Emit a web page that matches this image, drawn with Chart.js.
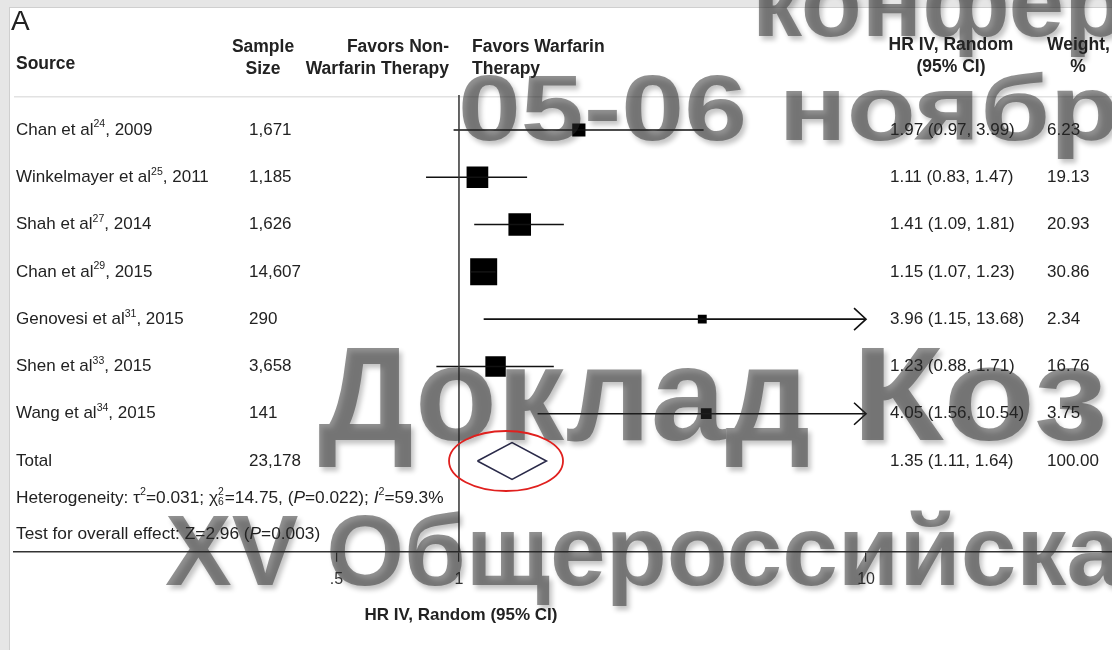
<!DOCTYPE html>
<html>
<head>
<meta charset="utf-8">
<script src="https://cdn.jsdelivr.net/npm/chart.js@4.4.0/dist/chart.umd.min.js"></script>
<style>
  html, body { margin: 0; padding: 0; background: #fff; }
  #wrap { width: 1112px; height: 650px; position: relative; overflow: hidden; }
</style>
</head>
<body>
<div id="wrap"><canvas id="forest" width="1112" height="650"></canvas></div>
<script>
// study data
const studies = ['Chan et al', 'Winkelmayer et al', 'Shah et al', 'Chan et al', 'Genovesi et al', 'Shen et al', 'Wang et al'];
const refs = ['24', '25', '27', '29', '31', '33', '34'];
const years = ['2009', '2011', '2014', '2015', '2015', '2015', '2015'];
const sampleSizes = ['1,671', '1,185', '1,626', '14,607', '290', '3,658', '141'];
const hr = [1.97, 1.11, 1.41, 1.15, 3.96, 1.23, 4.05];
const lower = [0.97, 0.83, 1.09, 1.07, 1.15, 0.88, 1.56];
const upper = [3.99, 1.47, 1.81, 1.23, 13.68, 1.71, 10.54];
const weights = ['6.23', '19.13', '20.93', '30.86', '2.34', '16.76', '3.75'];

const totalN = '23,178';
const totalHr = 1.35;
const totalLower = 1.11;
const totalUpper = 1.64;
const totalWeight = '100.00';

const xTicks = [0.5, 1, 10];

const FONT = '"Liberation Sans", Arial, sans-serif';
const AXIS_MAX = 10;          // CIs past this end in an arrow
const ROW_TOTAL = studies.length;
const Y_MIN = -0.74, Y_MAX = 8.92;
const X_MIN = 0.0807, X_MAX = 40.2;

function fmtCI(v, lo, hi) {
  return v.toFixed(2) + ' (' + lo.toFixed(2) + ', ' + hi.toFixed(2) + ')';
}

// text with superscripts / subscripts / italics
function drawRich(ctx, parts, x, y, size) {
  parts.forEach(p => {
    if (typeof p === 'string') p = { t: p };
    if (p.sup !== undefined && p.sub !== undefined) {
      ctx.font = (size * 0.6) + 'px ' + FONT;
      ctx.fillText(p.sup, x, y - size * 0.32);
      ctx.fillText(p.sub, x, y + size * 0.25);
      x += Math.max(ctx.measureText(p.sup).width, ctx.measureText(p.sub).width) + 1;
      return;
    }
    let f = size, dy = 0;
    if (p.sup !== undefined) { f = size * 0.62; dy = -size * 0.32; p.t = p.sup; }
    ctx.font = (p.it ? 'italic ' : '') + f + 'px ' + FONT;
    ctx.fillText(p.t, x, y + dy);
    x += ctx.measureText(p.t).width;
  });
  return x;
}

const framePlugin = {
  id: 'frame',
  beforeDraw(chart) {
    const ctx = chart.ctx;
    ctx.save();
    ctx.fillStyle = '#fff';
    ctx.fillRect(0, 0, chart.width, chart.height);
    ctx.fillStyle = '#e6e6e6';
    ctx.fillRect(0, 0, chart.width, 7);
    ctx.fillRect(0, 0, 9, chart.height);
    ctx.fillStyle = '#cfcfcf';
    ctx.fillRect(9, 7, chart.width, 1);
    ctx.fillRect(9, 7, 1, chart.height);
    // faint header rule
    ctx.fillStyle = '#e2e2e2';
    ctx.fillRect(14, 96, chart.width - 14, 1.5);
    ctx.restore();
  }
};

const tablePlugin = {
  id: 'table',
  afterDraw(chart) {
    const ctx = chart.ctx;
    const y = chart.scales.y;
    const x = chart.scales.x;
    ctx.save();
    ctx.fillStyle = '#222';
    ctx.textBaseline = 'middle';

    ctx.font = '28px ' + FONT;
    ctx.fillText('A', 11, 22);

    ctx.font = 'bold 17.5px ' + FONT;
    ctx.fillText('Source', 16, 64);
    ctx.textAlign = 'center';
    ctx.fillText('Sample', 263, 47);
    ctx.fillText('Size', 263, 69);
    ctx.fillText('HR IV, Random', 951, 45);
    ctx.fillText('(95% CI)', 951, 67);
    ctx.fillText('%', 1078, 67);
    ctx.textAlign = 'right';
    ctx.fillText('Favors Non-', 449, 47);
    ctx.fillText('Warfarin Therapy', 449, 69);
    ctx.textAlign = 'left';
    ctx.fillText('Favors Warfarin', 472, 47);
    ctx.fillText('Therapy', 472, 69);
    ctx.fillText('Weight,', 1047, 45);

    const size = 17;
    studies.forEach((s, i) => {
      const py = y.getPixelForValue(i);
      drawRich(ctx, [s, { sup: refs[i] }, ', ' + years[i]], 16, py, size);
      ctx.font = size + 'px ' + FONT;
      ctx.fillText(sampleSizes[i], 249, py);
      ctx.fillText(fmtCI(hr[i], lower[i], upper[i]), 890, py);
      ctx.fillText(weights[i], 1047, py);
    });
    const ty = y.getPixelForValue(ROW_TOTAL);
    ctx.font = size + 'px ' + FONT;
    ctx.fillText('Total', 16, ty);
    ctx.fillText(totalN, 249, ty);
    ctx.fillText(fmtCI(totalHr, totalLower, totalUpper), 890, ty);
    ctx.fillText(totalWeight, 1047, ty);

    drawRich(ctx, ['Heterogeneity: ', 'τ', { sup: '2' }, '=0.031; ', 'χ', { sup: '2', sub: '6' }, '=14.75, (',
      { t: 'P', it: true }, '=0.022); ', { t: 'I', it: true }, { sup: '2' }, '=59.3%'], 16, 498, 17.3);
    drawRich(ctx, ['Test for overall effect: Z=2.96 (', { t: 'P', it: true }, '=0.003)'], 16, 534, 17.3);

    // axis title, centred under the line of no effect
    ctx.font = 'bold 17px ' + FONT;
    ctx.textAlign = 'center';
    ctx.fillText('HR IV, Random (95% CI)', x.getPixelForValue(1) + 2, 615);
    ctx.textAlign = 'left';

    // arrows for truncated confidence intervals
    ctx.strokeStyle = '#111';
    ctx.lineWidth = 1.6;
    upper.forEach((u, i) => {
      if (u <= AXIS_MAX) return;
      const px = x.getPixelForValue(AXIS_MAX);
      const py = y.getPixelForValue(i);
      ctx.beginPath();
      ctx.moveTo(px - 12, py - 11);
      ctx.lineTo(px, py);
      ctx.lineTo(px - 12, py + 11);
      ctx.stroke();
    });
    ctx.restore();
  }
};

const watermarkPlugin = {
  id: 'watermark',
  afterDraw(chart) {
    const ctx = chart.ctx;
    ctx.save();
    ctx.fillStyle = 'rgba(45,45,45,0.52)';
    ctx.shadowColor = 'rgba(0,0,0,0.45)';
    ctx.shadowBlur = 5;
    ctx.shadowOffsetX = 3;
    ctx.shadowOffsetY = 4;
    ctx.textBaseline = 'alphabetic';
    ctx.font = 'bold 100px ' + FONT;
    ctx.fillText('конфер', 752, 36);
    ctx.fillText('XV Общероссийска', 165, 585);
    ctx.save();
    ctx.translate(458, 140);
    ctx.scale(1.13, 0.92);
    ctx.fillText('05-06 ноябр', 0, 0);
    ctx.restore();
    ctx.font = 'bold 134px ' + FONT;
    ctx.fillText('Доклад', 318, 440);
    ctx.save();
    ctx.translate(852, 440);
    ctx.scale(1.12, 1);
    ctx.fillText('Коз', 0, 0);
    ctx.restore();
    ctx.restore();

    // red ellipse around the pooled estimate
    const px = chart.scales.x.getPixelForValue(totalHr) - 6;
    const py = chart.scales.y.getPixelForValue(ROW_TOTAL);
    ctx.save();
    ctx.strokeStyle = '#e0201e';
    ctx.lineWidth = 1.8;
    ctx.beginPath();
    ctx.ellipse(px, py, 57, 30, 0, 0, Math.PI * 2);
    ctx.stroke();
    ctx.restore();
  }
};

const ciSets = hr.map((v, i) => ({
  data: [{ x: lower[i], y: i }, { x: Math.min(upper[i], AXIS_MAX), y: i }],
  showLine: true,
  borderColor: '#111',
  borderWidth: 1.6,
  pointRadius: 0
}));

const estimateSet = {
  data: hr.map((v, i) => ({ x: v, y: i })),
  pointStyle: 'rect',
  pointRadius: weights.map(w => (2 + 4.5 * Math.sqrt(parseFloat(w))) / Math.SQRT2),
  backgroundColor: '#000',
  borderWidth: 0,
  pointBorderWidth: 0
};

const diamondSet = {
  data: [
    { x: totalLower, y: ROW_TOTAL },
    { x: totalHr, y: ROW_TOTAL - 0.39 },
    { x: totalUpper, y: ROW_TOTAL },
    { x: totalHr, y: ROW_TOTAL + 0.39 },
    { x: totalLower, y: ROW_TOTAL }
  ],
  showLine: true,
  borderColor: '#2b2b4a',
  borderWidth: 1.6,
  pointRadius: 0,
  tension: 0
};

const refLine = {
  data: [{ x: 1, y: Y_MIN }, { x: 1, y: Y_MAX }],
  showLine: true,
  borderColor: '#333',
  borderWidth: 1.5,
  pointRadius: 0
};

new Chart(document.getElementById('forest'), {
  type: 'scatter',
  data: { datasets: [refLine, ...ciSets, estimateSet, diamondSet] },
  options: {
    responsive: false,
    animation: false,
    devicePixelRatio: 1,
    layout: { autoPadding: false, padding: { top: 95, left: 14, right: 0, bottom: 53 } },
    plugins: { legend: { display: false }, tooltip: { enabled: false } },
    scales: {
      x: {
        type: 'logarithmic',
        min: X_MIN,
        max: X_MAX,
        afterBuildTicks: s => { s.ticks = xTicks.map(v => ({ value: v })); },
        ticks: {
          callback: v => (v === 0.5 ? '.5' : String(v)),
          font: { size: 16, family: FONT },
          color: '#333',
          padding: 8,
          autoSkip: false,
          maxRotation: 0
        },
        grid: { drawOnChartArea: false, drawTicks: true, tickLength: 10, color: '#333', lineWidth: 1.2 },
        border: { display: true, color: '#333', width: 1.6 }
      },
      y: { type: 'linear', min: Y_MIN, max: Y_MAX, reverse: true, display: false }
    }
  },
  plugins: [framePlugin, tablePlugin, watermarkPlugin]
});
</script>
</body>
</html>
